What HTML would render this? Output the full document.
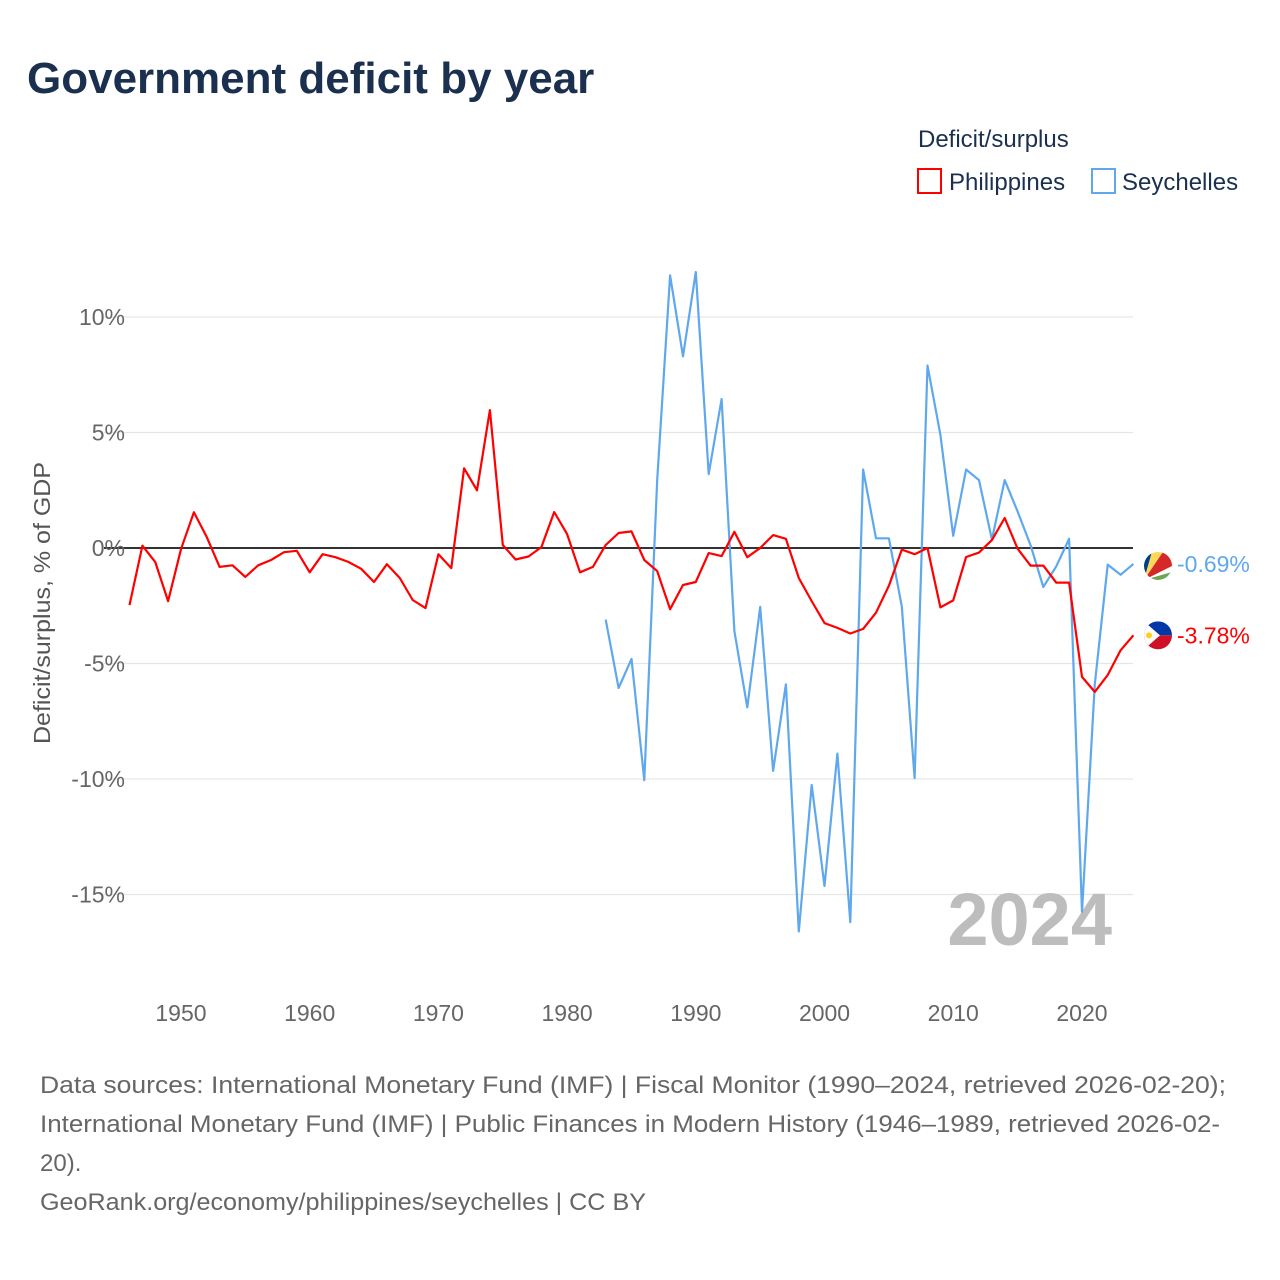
<!DOCTYPE html>
<html><head><meta charset="utf-8">
<style>
html,body{margin:0;padding:0;background:#fff;width:1280px;height:1280px;overflow:hidden}
text{font-family:"Liberation Sans",sans-serif}
</style></head>
<body>
<svg id="chart" width="1280" height="1280" viewBox="0 0 1280 1280" xmlns="http://www.w3.org/2000/svg">
<text x="27" y="93" font-size="44" font-weight="bold" fill="#1b2f4e">Government deficit by year</text>
<g>
<text x="918" y="147" font-size="24" fill="#1b2f4e">Deficit/surplus</text>
<rect x="918" y="169" width="23" height="24" fill="none" stroke="#f00" stroke-width="2"/>
<text x="949" y="190" font-size="24" fill="#1b2f4e">Philippines</text>
<rect x="1092" y="169" width="23" height="24" fill="none" stroke="#5fa8ee" stroke-width="2"/>
<text x="1122" y="190" font-size="24" fill="#1b2f4e">Seychelles</text>
</g>
<g id="grid"></g>
<g id="yticks"></g>
<g id="xticks"></g>
<text transform="translate(50,603) rotate(-90)" text-anchor="middle" font-size="23" fill="#555" textLength="282" lengthAdjust="spacingAndGlyphs">Deficit/surplus, % of GDP</text>
<text x="1112" y="945" text-anchor="end" font-size="74" font-weight="bold" fill="#bdbdbd">2024</text>
<g id="series"></g>
<g id="ends"></g>
<g font-size="24" fill="#666">
<text x="40" y="1093" textLength="1186" lengthAdjust="spacingAndGlyphs">Data sources: International Monetary Fund (IMF) | Fiscal Monitor (1990–2024, retrieved 2026-02-20);</text>
<text x="40" y="1132" textLength="1180" lengthAdjust="spacingAndGlyphs">International Monetary Fund (IMF) | Public Finances in Modern History (1946–1989, retrieved 2026-02-</text>
<text x="40" y="1171">20).</text>
<text x="40" y="1210" textLength="606" lengthAdjust="spacingAndGlyphs">GeoRank.org/economy/philippines/seychelles | CC BY</text>
</g>
</svg>
<script>
const phYears = [];
for (let y = 1946; y <= 2024; y++) phYears.push(y);
const phValues = [-2.47,0.1,-0.6,-2.3,-0.05,1.55,0.48,-0.82,-0.75,-1.25,-0.75,-0.52,-0.18,-0.12,-1.05,-0.27,-0.4,-0.6,-0.9,-1.47,-0.7,-1.3,-2.25,-2.6,-0.27,-0.87,3.45,2.5,5.97,0.13,-0.5,-0.37,0.04,1.56,0.6,-1.05,-0.82,0.13,0.65,0.72,-0.52,-1.0,-2.65,-1.6,-1.47,-0.22,-0.35,0.7,-0.4,0.0,0.56,0.4,-1.3,-2.3,-3.25,-3.46,-3.7,-3.5,-2.8,-1.63,-0.07,-0.27,0.0,-2.57,-2.27,-0.39,-0.2,0.34,1.3,-0.03,-0.76,-0.76,-1.5,-1.5,-5.58,-6.23,-5.5,-4.43,-3.78];
const syYears = [];
for (let y = 1983; y <= 2024; y++) syYears.push(y);
const syValues = [-3.1,-6.06,-4.8,-10.05,2.94,11.8,8.3,11.95,3.2,6.45,-3.6,-6.9,-2.55,-9.65,-5.9,-16.6,-10.26,-14.63,-8.9,-16.2,3.4,0.42,0.42,-2.53,-9.96,7.9,4.9,0.53,3.4,2.94,0.37,2.94,1.58,0.13,-1.69,-0.8,0.4,-15.75,-5.9,-0.72,-1.16,-0.69];
const yTicks = [10,5,0,-5,-10,-15];
const xTicks = [1950,1960,1970,1980,1990,2000,2010,2020];
const endLabels = ["-0.69%","-3.78%"];

const NS = "http://www.w3.org/2000/svg";
function xS(yr){ return 129.5 + (yr - 1946) * 12.871; }
function yS(v){ return 548 - v * 23.1; }
function mk(tag, attrs, parent){ const e = document.createElementNS(NS, tag); for (const k in attrs) e.setAttribute(k, attrs[k]); parent.appendChild(e); return e; }

const grid = document.getElementById('grid');
const yt = document.getElementById('yticks');
yTicks.forEach(t => {
  const l = mk('line', {x1:104, x2:1133, y1:yS(t), y2:yS(t), stroke: t===0?'#333':'#e6e6e6', 'stroke-width': t===0?2:1.2}, grid);
  
  
  const tx = mk('text', {x:125, y:yS(t)+8, 'text-anchor':'end', 'font-size':23, fill:'#666'}, yt);
  tx.textContent = t + '%';
  
  
});
const xt = document.getElementById('xticks');
xTicks.forEach(t => {
  const tx = mk('text', {x:xS(t), y:1021, 'text-anchor':'middle', 'font-size':23, fill:'#666'}, xt);
  tx.textContent = t;
  
  
});
const ser = document.getElementById('series');
function pts(ys, vs){ return ys.map((y,i) => xS(y).toFixed(1) + ',' + yS(vs[i]).toFixed(1)).join(' '); }
const sy = mk('polyline', {points: pts(syYears, syValues), fill:'none', stroke:'#5fa8ee', 'stroke-width':2.2, 'stroke-linejoin':'round'}, ser);


const ph = mk('polyline', {points: pts(phYears, phValues), fill:'none', stroke:'#f00', 'stroke-width':2.2, 'stroke-linejoin':'round'}, ser);



const ends = document.getElementById('ends');
const defs = mk('defs', {}, ends);
const cp1 = mk('clipPath', {id:'c1'}, defs); mk('circle', {cx:1158, cy:yS(syValues[syValues.length-1])+2, r:14}, cp1);
const cp2 = mk('clipPath', {id:'c2'}, defs); mk('circle', {cx:1158, cy:yS(phValues[phValues.length-1]), r:14}, cp2);
const fy = yS(syValues[syValues.length-1]) + 2;
const g1 = mk('g', {'clip-path':'url(#c1)'}, ends);


mk('rect', {x:1144, y:fy-14, width:28, height:28, fill:'#fff'}, g1);
mk('polygon', {points:`1144,${fy+14} 1144,${fy-14} 1152,${fy-14}`, fill:'#003f87'}, g1);
mk('polygon', {points:`1144,${fy+14} 1152,${fy-14} 1163,${fy-14}`, fill:'#fcd856'}, g1);
mk('polygon', {points:`1144,${fy+14} 1163,${fy-14} 1172,${fy-14} 1172,${fy}`, fill:'#d62828'}, g1);
mk('polygon', {points:`1144,${fy+14} 1172,${fy+6} 1172,${fy+14}`, fill:'#6aa84f'}, g1);
const py = yS(phValues[phValues.length-1]);
const g2 = mk('g', {'clip-path':'url(#c2)'}, ends);


mk('rect', {x:1144, y:py-14, width:28, height:14, fill:'#0038a8'}, g2);
mk('rect', {x:1144, y:py, width:28, height:14, fill:'#ce1126'}, g2);
mk('polygon', {points:`1144,${py-14} 1160,${py} 1144,${py+14}`, fill:'#fff'}, g2);
mk('circle', {cx:1149, cy:py, r:3, fill:'#fcd116'}, g2);
const l1 = mk('text', {x:1177, y:fy+6, 'font-size':23, fill:'#5fa8ee'}, ends);
l1.textContent = endLabels[0];


const l2 = mk('text', {x:1177, y:py+8, 'font-size':23, fill:'#f00'}, ends);
l2.textContent = endLabels[1];


</script>
</body></html>
